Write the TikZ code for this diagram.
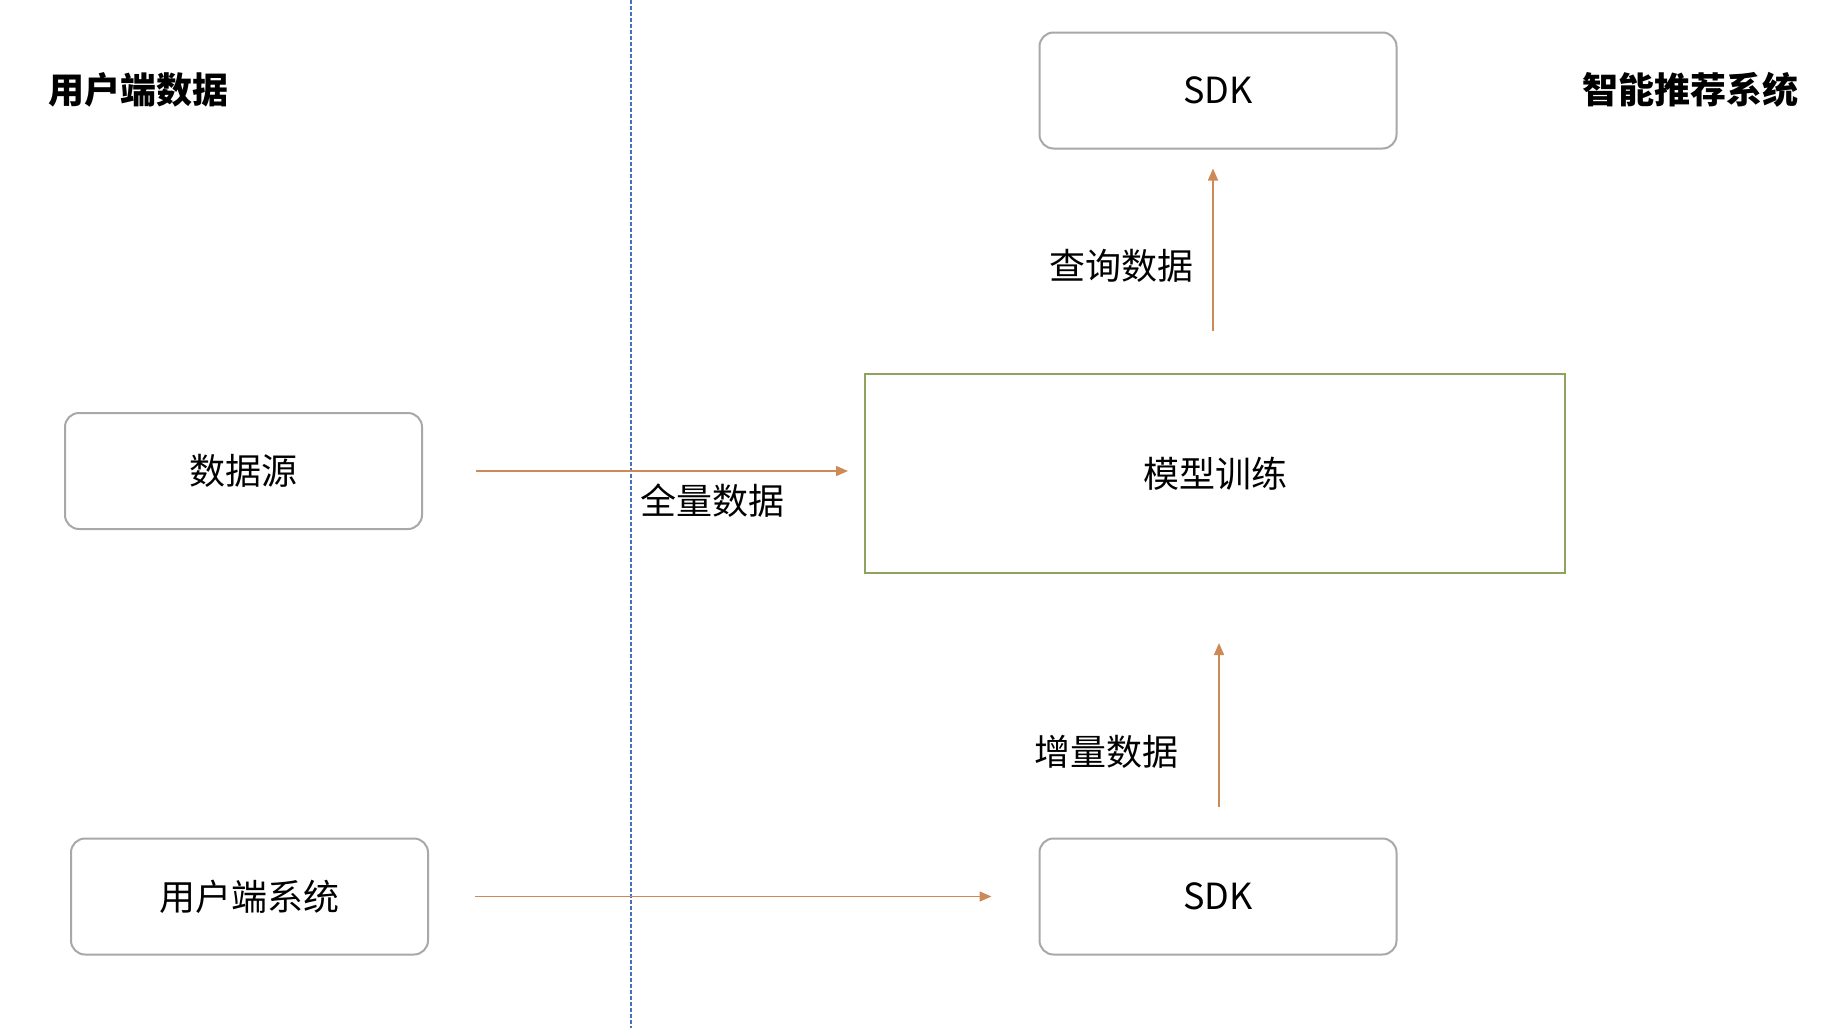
\documentclass[tikz,border=0pt]{standalone}
\usepackage{fontspec}
\setmainfont{Noto Sans CJK SC}
\usetikzlibrary{arrows.meta}
\definecolor{boxgray}{HTML}{A8A8A8}
\definecolor{arrorange}{HTML}{CD8A57}
\definecolor{boxgreen}{HTML}{8DA35E}
\definecolor{lineblue}{HTML}{4A6FBF}
\tikzset{
  rbox/.style={draw=boxgray, line width=2pt, rounded corners=14pt, minimum width=357pt, minimum height=116pt, inner sep=0pt, font=\fontsize{36}{40}\selectfont},
  gbox/.style={draw=boxgreen, line width=2pt, minimum width=700pt, minimum height=199pt, inner sep=0pt, font=\fontsize{36}{40}\selectfont},
  arr/.style={draw=arrorange, line width=1.6pt, -{Triangle[length=12pt,width=10pt]}},
  lbl/.style={inner sep=0pt, font=\fontsize{36}{40}\selectfont},
  ttl/.style={inner sep=0pt, font=\fontsize{36}{40}\selectfont\bfseries},
  divider/.style={draw=lineblue, line width=1.3pt, dash pattern=on 4pt off 2pt}
}
\begin{document}
\begin{tikzpicture}[x=1pt,y=-1pt]
\useasboundingbox (0,0) rectangle (1838,1028);
% divider
\coordinate (dtop) at (631,0);
\coordinate (dbot) at (631,1028);
\draw[divider] (dtop) -- (dbot);
% titles
\node[ttl] (tleft) at (138,90) {用户端数据};
\node[ttl] (tright) at (1690,90) {智能推荐系统};
% boxes
\node[rbox] (src) at (243.5,471) {数据源};
\node[rbox] (usr) at (249.5,896.5) {用户端系统};
\node[rbox] (sdk1) at (1218,90.5) {SDK};
\node[rbox] (sdk2) at (1218,896.5) {SDK};
\node[gbox] (train) at (1215,473.5) {模型训练};
% labels
\node[lbl] (lq) at (1121,266) {查询数据};
\node[lbl] (lz) at (1106,752) {增量数据};
\node[lbl] (lf) at (712,501) {全量数据};
% connectors
\draw[arr, shorten <=53pt, shorten >=16pt] (src.east) -- (src.east -| train.west);
\draw[arr, shorten <=46pt, shorten >=47pt] (usr.east) -- (sdk2.west);
\draw[arr, shorten <=42pt, shorten >=19pt] ([xshift=-2pt]train.north) -- ([xshift=-2pt]train.north |- sdk1.south);
\draw[arr, shorten <=31pt, shorten >=69pt] ([xshift=4pt]train.south |- sdk2.north) -- ([xshift=4pt]train.south);
\end{tikzpicture}
\end{document}
